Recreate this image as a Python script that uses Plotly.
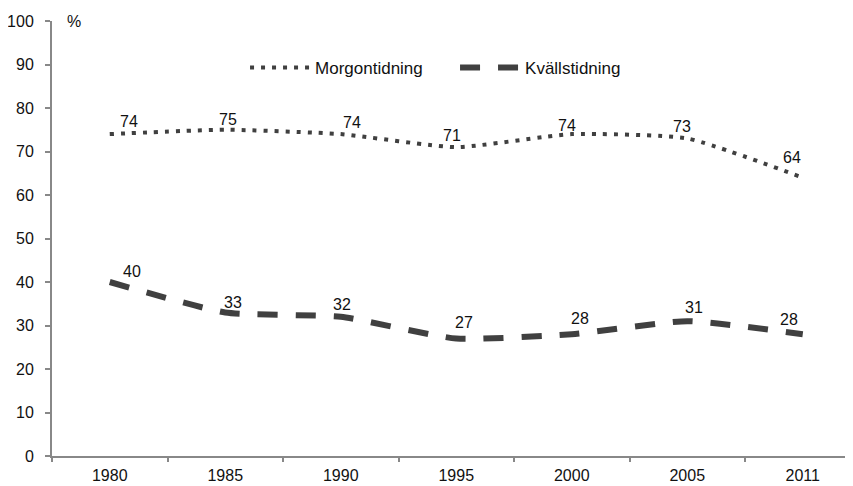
import plotly.graph_objects as go

years = ["1980", "1985", "1990", "1995", "2000", "2005", "2011"]
morgon = [74, 75, 74, 71, 74, 73, 64]
kvall = [40, 33, 32, 27, 28, 31, 28]
y_ticks = [0, 10, 20, 30, 40, 50, 60, 70, 80, 90, 100]

# label offsets (px), styling only
morgon_dx = [19, 3, 11, -4, -5, -5, -11]
morgon_dy = [13, 10, 12, 12, 9, 12, 20]
kvall_dx = [22, 8, 1, 8, 8, 7, -14]
kvall_dy = [11, 10, 12, 16, 16, 14, 15]

col = "#404040"
font = "Liberation Sans, Arial, sans-serif"
fs = 16

fig = go.Figure()
fig.add_trace(go.Scatter(
    x=years, y=morgon, name="Morgontidning", mode="lines",
    line=dict(color=col, width=4, dash="4px,7px", shape="spline", smoothing=0.5),
))
fig.add_trace(go.Scatter(
    x=years, y=kvall, name="Kvällstidning", mode="lines",
    line=dict(color=col, width=6, dash="20px,18px", shape="spline", smoothing=0.5),
))

anns = []
for i, (v, dx, dy) in enumerate(zip(morgon, morgon_dx, morgon_dy)):
    anns.append(dict(x=i, y=v, text=str(v), showarrow=False, xref="x", yref="y",
                     xshift=dx, yshift=dy, font=dict(size=fs, color="#111", family=font)))
for i, (v, dx, dy) in enumerate(zip(kvall, kvall_dx, kvall_dy)):
    anns.append(dict(x=i, y=v, text=str(v), showarrow=False, xref="x", yref="y",
                     xshift=dx, yshift=dy, font=dict(size=fs, color="#111", family=font)))
anns.append(dict(x=0.027, y=1.0, xref="paper", yref="paper", text="%", showarrow=False,
                 xanchor="center", yanchor="middle",
                 font=dict(size=fs, color="#111", family=font)))

fig.update_layout(
    width=845, height=478,
    margin=dict(l=44, r=0, t=13, b=30),
    paper_bgcolor="white", plot_bgcolor="white",
    font=dict(family=font, size=fs, color="#111"),
    showlegend=True,
    legend=dict(orientation="h", x=0.241, y=0.892, xanchor="left", yanchor="middle",
                font=dict(size=17, color="#111"), bgcolor="rgba(0,0,0,0)",
                itemwidth=60, entrywidth=135, entrywidthmode="pixels", tracegroupgap=0),
    annotations=anns,
    xaxis=dict(type="category", range=[-0.5, 6.435], showgrid=False, zeroline=False,
               showline=True, linecolor="#888", linewidth=2,
               ticks="outside", tickson="boundaries", ticklen=4, tickcolor="#888", tickwidth=2,
               ticklabelstandoff=4, automargin=False, tickfont=dict(size=fs)),
    yaxis=dict(range=[0, 100], tickvals=y_ticks, showgrid=False, zeroline=False,
               showline=True, linecolor="#888", linewidth=2,
               ticks="outside", ticklen=5, tickcolor="#888", tickwidth=2,
               ticklabelstandoff=8, automargin=False, tickfont=dict(size=fs)),
)

fig.write_html("out.html")
